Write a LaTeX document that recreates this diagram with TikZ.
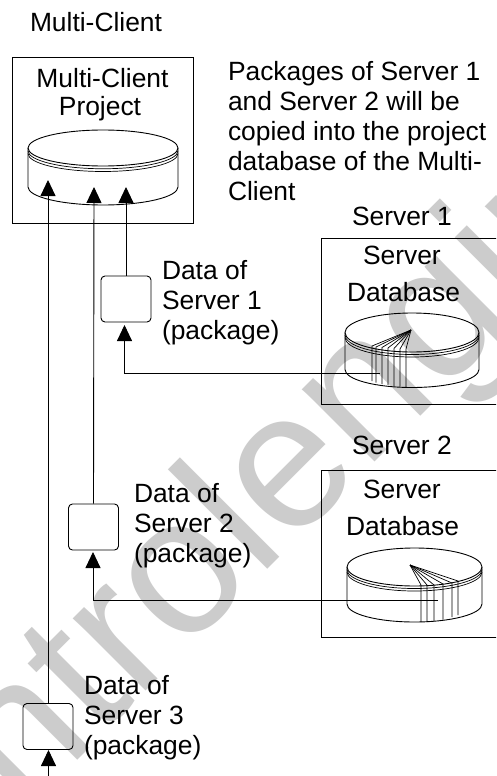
\documentclass[tikz,border=0pt]{standalone}
\usepackage{fontspec}
\setmainfont{Liberation Sans}
\usetikzlibrary{arrows.meta}
\definecolor{wm}{HTML}{CCCCCC}
\tikzset{
  ln/.style={draw=black,line width=0.9pt},
  pkg/.style={ln,rounded corners=4pt,minimum width=50pt,minimum height=46pt,inner sep=0pt},
  lbl/.style={inner sep=0pt,outer sep=0pt,anchor=west,align=left,font=\fontsize{26.4pt}{30pt}\selectfont},
  arr/.style={ln,-{Triangle[length=16pt,width=15pt]}},
  thin line/.style={draw=black,line width=0.7pt}
}
\newcommand{\drawdisk}[7]{% cx cy rx ry side-height bottom-ry rim
  \draw[ln] (#1,#2) ellipse [x radius=#3pt,y radius=#4pt];
  \draw[thin line] (#1-#3,#2) ++(0,#7*0.5) arc[start angle=180,end angle=360,x radius=#3pt,y radius=#4pt];
  \draw[thin line] (#1-#3,#2) ++(0,#7) arc[start angle=180,end angle=360,x radius=#3pt,y radius=#4pt];
  \draw[ln] (#1-#3,#2) -- ++(0,#5) arc[start angle=180,end angle=360,x radius=#3pt,y radius=#6pt] -- ++(0,-#5);
}
\begin{document}
\begin{tikzpicture}[x=1pt,y=-1pt]
\useasboundingbox (0,0) rectangle (496,776);
\clip (0,0) rectangle (496,776);
\fill[white] (0,0) rectangle (496,776);
% watermark
\node[rotate=45,anchor=base west,inner sep=0pt,text=wm,font=\fontsize{194pt}{194pt}\selectfont] (mark) at (-122.5,960) {controlengineering};
% boxes
\node[ln,minimum width=181pt,minimum height=166pt,inner sep=0pt] (mcbox) at (102.5,140) {};
\draw[ln] (500,238) -- (321.5,238) -- (321.5,404) -- (500,404);
\draw[ln] (500,470) -- (321.5,470) -- (321.5,637) -- (500,637);
% disks
\drawdisk{103}{148}{75}{18}{39}{18}{5.5}
\drawdisk{412}{332.5}{67}{19.5}{37}{18}{5}
\drawdisk{414.5}{567}{67.5}{19}{37}{18}{5}
% fans
\coordinate (apexA) at (411,330);
\foreach \x/\t/\b in {372/346/381,376/347/382.5,382/347.5/384,388/348/385,394/348.5/386,400/349/386.5,406/349/387}{
  \draw[thin line] (apexA) -- (\x,\t) -- (\x,\b);
}
\coordinate (apexB) at (410,565);
\foreach \x/\t/\b in {421/585/622,427/585/622,434/585/621,443/584/619.5,452/583/617,458/581/615}{
  \draw[thin line] (apexB) -- (\x,\t) -- (\x,\b);
}
% packages
\node[pkg] (pk1) at (126,299) {};
\node[pkg] (pk2) at (93.5,527) {};
\node[pkg] (pk3) at (48,726.5) {};
% connectors
\coordinate (tipA) at (126,187);
\coordinate (tipB) at (94,187);
\coordinate (tipC) at (48,180);
\draw[arr] (pk1.north) -- (tipA);
\draw[arr] (pk2.north) -- (tipB);
\draw[arr] (pk3.north) -- (tipC);
\coordinate (srcA) at (380,373);
\coordinate (cornerA) at (124.5,373);
\coordinate (inA) at (124.5,325);
\draw[arr] (srcA) -- (cornerA) -- (inA);
\coordinate (srcB) at (438,600);
\coordinate (cornerB) at (93,600);
\coordinate (inB) at (93,552);
\draw[arr] (srcB) -- (cornerB) -- (inB);
\coordinate (srcC) at (48.5,780);
\coordinate (inC) at (48.5,750);
\draw[arr] (srcC) -- (inC);
% texts
\node[lbl] (title) at (30,22) {Multi-Client};
\node[lbl,anchor=center] (mc1) at (102.5,78) {Multi-Client};
\node[lbl,anchor=center] (mc2) at (100,109) {Project};
\node[lbl] (note) at (228,131.5) {Packages of Server 1\\and Server 2 will be\\copied into the project\\database of the Multi-\\Client};
\node[lbl] (s1t) at (352,216) {Server 1};
\node[lbl] (s1a) at (363,255) {Server};
\node[lbl] (s1b) at (347,292) {Database};
\node[lbl] (s2t) at (352,445.5) {Server 2};
\node[lbl] (s2a) at (363,489) {Server};
\node[lbl] (s2b) at (346,526) {Database};
\node[lbl] (d1) at (162,302.5) {Data of\\Server 1\\(package)};
\node[lbl] (d2) at (134,526) {Data of\\Server 2\\(package)};
\node[lbl] (d3) at (84,718) {Data of\\Server 3\\(package)};
\end{tikzpicture}
\end{document}
